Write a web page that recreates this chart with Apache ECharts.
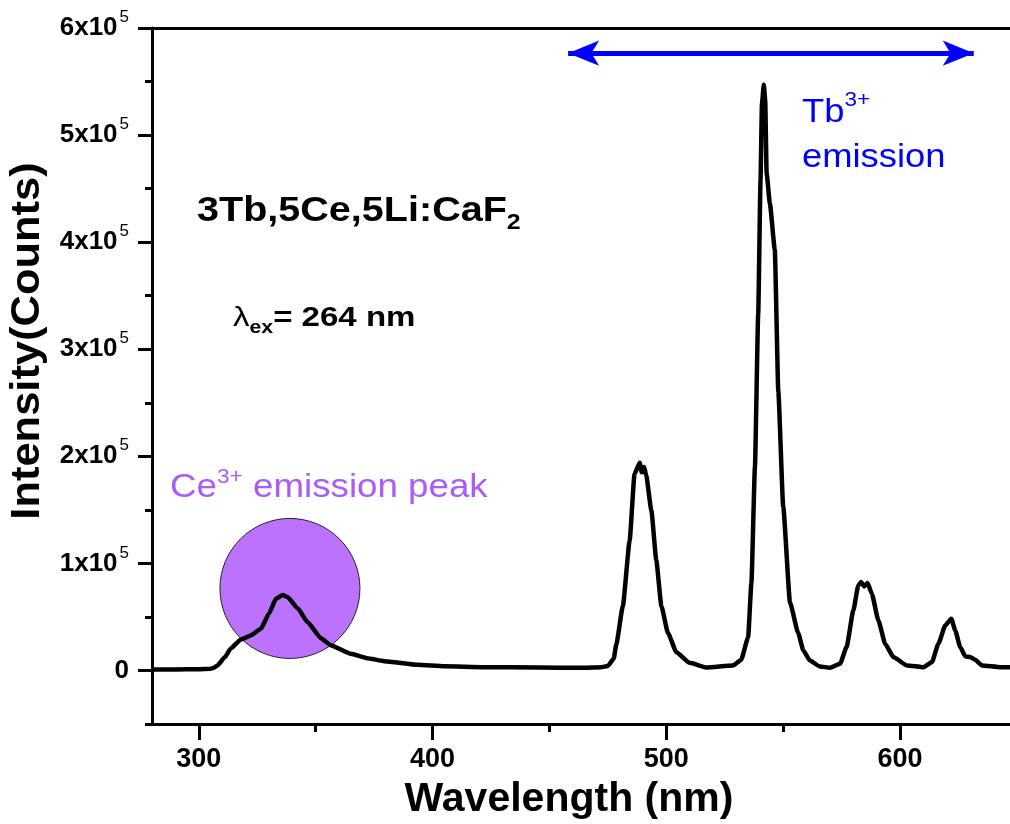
<!DOCTYPE html>
<html>
<head>
<meta charset="utf-8">
<script src="https://cdn.jsdelivr.net/npm/echarts@6/dist/echarts.min.js"></script>
<style>
    html, body { margin: 0; padding: 0; background: #fff; }
    #chart { width: 1010px; height: 824px; }
</style>
</head>
<body>
<div id="chart"></div>
<script>
// emission spectrum
const wavelength = [
    280, 290, 300, 305, 306.5, 308, 311, 313.7, 318, 322.3, 326.6, 330, 333, 335.9, 338, 342.3, 346.6,
    352.3, 356.6, 365, 372, 379.4, 393.7, 405, 422, 445, 465, 472, 475, 477.5, 478.6, 481.4, 484.3,
    486.4, 488.6, 489.5, 490.5, 491.4, 493.6, 495.7, 497.9, 500.7, 504.3, 510, 517, 528.5, 532,
    535, 536.4, 537.9, 539.3, 540.3, 540.9, 541.7, 542.3, 542.9, 544.3, 546.4, 547.9, 550, 552.9,
    556.4, 558.6, 561.4, 565.7, 570, 574.3, 577.1, 580, 582.1, 583.3, 584.6, 586.1, 587.9, 590.7,
    593.6, 597.1, 602.9, 610, 613.6, 616.4, 619.3, 621.9, 623.6, 625.7, 627.9, 630, 632.1, 635,
    642.9, 650
];
const intensity = [
    1000, 1000, 1200, 1500, 2600, 4700, 12000, 20600, 29000, 32700, 39000, 53000, 67000, 70500, 68500, 58000, 45000,
    30000, 23400, 15600, 11500, 8700, 5300, 4000, 3100, 2700, 2500, 3000, 4200, 11000, 24300, 60000, 121000,
    183500, 194000, 185000, 190000, 182000, 149500, 103000, 60000, 35000, 17000, 7100, 2800, 4600, 9800,
    31000, 82000, 190000, 332700, 458000, 529000, 547000, 532000, 464500, 436000, 393000, 260700, 153000, 63500,
    35000, 18700, 9300, 3700, 2500, 6200, 21800, 56000, 79400, 82600, 78500, 81600, 71700, 46700,
    25000, 12500, 4700, 3100, 7800, 25000, 42000, 48300, 37400, 21800, 13100, 12500, 10000, 4700,
    3100, 3000
];

const xMajorTicks = [300, 400, 500, 600];
const xMinorTicks = [350, 450, 550, 650];
const yMajorTicks = [0, 100000, 200000, 300000, 400000, 500000, 600000];
const yMinorTicks = [-50000, 50000, 150000, 250000, 350000, 450000, 550000];

// Ce3+ marker (wavelength, intensity) and Tb3+ range arrow
const cePeakMarker = [339, 76600];
const tbRange = [458, 631.5];
const tbRangeLevel = 576500;

const FONT = '"Liberation Sans", Arial, sans-serif';
const PURPLE = '#a95cf6';
const BLUE = '#0000ff';
const chart = echarts.init(document.getElementById('chart'));

const hiddenAxisBits = {
    axisLine: { show: false, onZero: false },
    axisLabel: { show: false },
    splitLine: { show: false }
};

const option = {
    animation: false,
    backgroundColor: '#fff',
    grid: {
        left: 152,
        top: 28,
        right: -7,
        bottom: 100,
        outerBoundsMode: 'none'
    },
    xAxis: [
        {
            type: 'value',
            min: 280,
            max: 650,
            position: 'bottom',
            axisLine: { show: true, onZero: false, lineStyle: { color: '#000', width: 3 } },
            axisTick: {
                show: true,
                length: 16,
                customValues: xMajorTicks,
                lineStyle: { color: '#000', width: 3 }
            },
            axisLabel: {
                customValues: xMajorTicks,
                margin: 22,
                color: '#000',
                fontSize: 27,
                fontWeight: 'bold',
                fontFamily: FONT
            },
            splitLine: { show: false }
        },
        {
            type: 'value',
            min: 280,
            max: 650,
            position: 'bottom',
            axisTick: {
                show: true,
                length: 8,
                customValues: xMinorTicks,
                lineStyle: { color: '#000', width: 3 }
            },
            ...hiddenAxisBits
        },
        {
            type: 'value',
            min: 280,
            max: 650,
            position: 'top',
            axisLine: { show: true, onZero: false, lineStyle: { color: '#000', width: 3 } },
            axisTick: { show: false },
            axisLabel: { show: false },
            splitLine: { show: false }
        }
    ],
    yAxis: [
        {
            type: 'value',
            min: -50000,
            max: 600000,
            position: 'left',
            axisLine: { show: true, onZero: false, lineStyle: { color: '#000', width: 3 } },
            axisTick: {
                show: true,
                length: 14,
                customValues: yMajorTicks,
                lineStyle: { color: '#000', width: 3 }
            },
            axisLabel: {
                customValues: yMajorTicks,
                margin: 23,
                formatter: v => v === 0 ? '{n|0}' : '{n|' + (v / 100000) + 'x10}{sup|5}',
                rich: {
                    n: { fontSize: 26, fontWeight: 'bold', color: '#000', fontFamily: FONT, lineHeight: 38 },
                    sup: { fontSize: 17, color: '#000', fontFamily: FONT, verticalAlign: 'top', lineHeight: 17, padding: [0, 0, 0, 2] }
                }
            },
            splitLine: { show: false }
        },
        {
            type: 'value',
            min: -50000,
            max: 600000,
            position: 'left',
            axisTick: {
                show: true,
                length: 7,
                customValues: yMinorTicks,
                lineStyle: { color: '#000', width: 3 }
            },
            ...hiddenAxisBits
        }
    ],
    series: [
        {
            name: 'Ce marker',
            type: 'scatter',
            z: 1,
            silent: true,
            symbol: 'circle',
            symbolSize: 140,
            itemStyle: { color: '#bb73fe', borderColor: '#222', borderWidth: 1, opacity: 1 },
            data: [cePeakMarker],
            markLine: {
                silent: true,
                symbol: ['arrow', 'arrow'],
                symbolSize: [19, 31],
                label: { show: false },
                emphasis: { disabled: true },
                lineStyle: { type: 'solid', color: BLUE, width: 5 },
                data: [[
                    { coord: [tbRange[0], tbRangeLevel] },
                    { coord: [tbRange[1], tbRangeLevel] }
                ]]
            }
        },
        {
            name: 'spectrum',
            type: 'line',
            z: 3,
            showSymbol: false,
            symbol: 'none',
            smooth: 0.15,
            smoothMonotone: 'x',
            lineStyle: { color: '#000', width: 4.5, join: 'round' },
            data: wavelength.map((w, i) => [w, intensity[i]])
        }
    ],
    graphic: [
        {
            type: 'text',
            x: 28,
            y: 341,
            rotation: Math.PI / 2,
            scaleX: 1.06,
            style: {
                text: 'Intensity(Counts)',
                fill: '#000',
                font: 'bold 41px ' + FONT,
                textAlign: 'center',
                textVerticalAlign: 'middle'
            }
        },
        {
            type: 'text',
            x: 569,
            y: 800,
            style: {
                text: 'Wavelength (nm)',
                fill: '#000',
                font: 'bold 41px ' + FONT,
                textAlign: 'center',
                textVerticalAlign: 'middle'
            }
        },
        {
            type: 'text',
            x: 197,
            y: 188,
            scaleX: 1.13,
            style: {
                text: '{m|3Tb,5Ce,5Li:CaF}{sub|2}',
                fill: '#000',
                textAlign: 'left',
                textVerticalAlign: 'top',
                rich: {
                    m: { fontSize: 35, fontWeight: 'bold', fontFamily: FONT, fill: '#000', lineHeight: 46 },
                    sub: { fontSize: 22, fontWeight: 'bold', fontFamily: FONT, fill: '#000', verticalAlign: 'bottom', lineHeight: 20 }
                }
            }
        },
        {
            type: 'text',
            x: 233,
            y: 299,
            scaleX: 1.18,
            style: {
                text: '{l|λ}{sub|ex}{m|= 264 nm}',
                fill: '#000',
                textAlign: 'left',
                textVerticalAlign: 'top',
                rich: {
                    l: { fontSize: 28, fontFamily: FONT, fill: '#000', lineHeight: 38 },
                    sub: { fontSize: 18, fontWeight: 'bold', fontFamily: FONT, fill: '#000', verticalAlign: 'bottom', lineHeight: 16 },
                    m: { fontSize: 28, fontWeight: 'bold', fontFamily: FONT, fill: '#000', lineHeight: 38 }
                }
            }
        },
        {
            type: 'text',
            x: 170,
            y: 467,
            scaleX: 1.08,
            style: {
                text: '{m|Ce}{sup|3+}{m| emission peak}',
                fill: PURPLE,
                textAlign: 'left',
                textVerticalAlign: 'top',
                rich: {
                    m: { fontSize: 34, fontFamily: FONT, fill: PURPLE, lineHeight: 42 },
                    sup: { fontSize: 21, fontFamily: FONT, fill: PURPLE, verticalAlign: 'top', lineHeight: 18 }
                }
            }
        },
        {
            type: 'text',
            x: 802,
            y: 90,
            scaleX: 1.07,
            style: {
                text: '{m|Tb}{sup|3+}\n{m|emission}',
                fill: BLUE,
                textAlign: 'left',
                textVerticalAlign: 'top',
                rich: {
                    m: { fontSize: 34, fontFamily: FONT, fill: BLUE, lineHeight: 45 },
                    sup: { fontSize: 21, fontFamily: FONT, fill: BLUE, verticalAlign: 'top', lineHeight: 18 }
                }
            }
        }
    ]
};

chart.setOption(option);
</script>
</body>
</html>
